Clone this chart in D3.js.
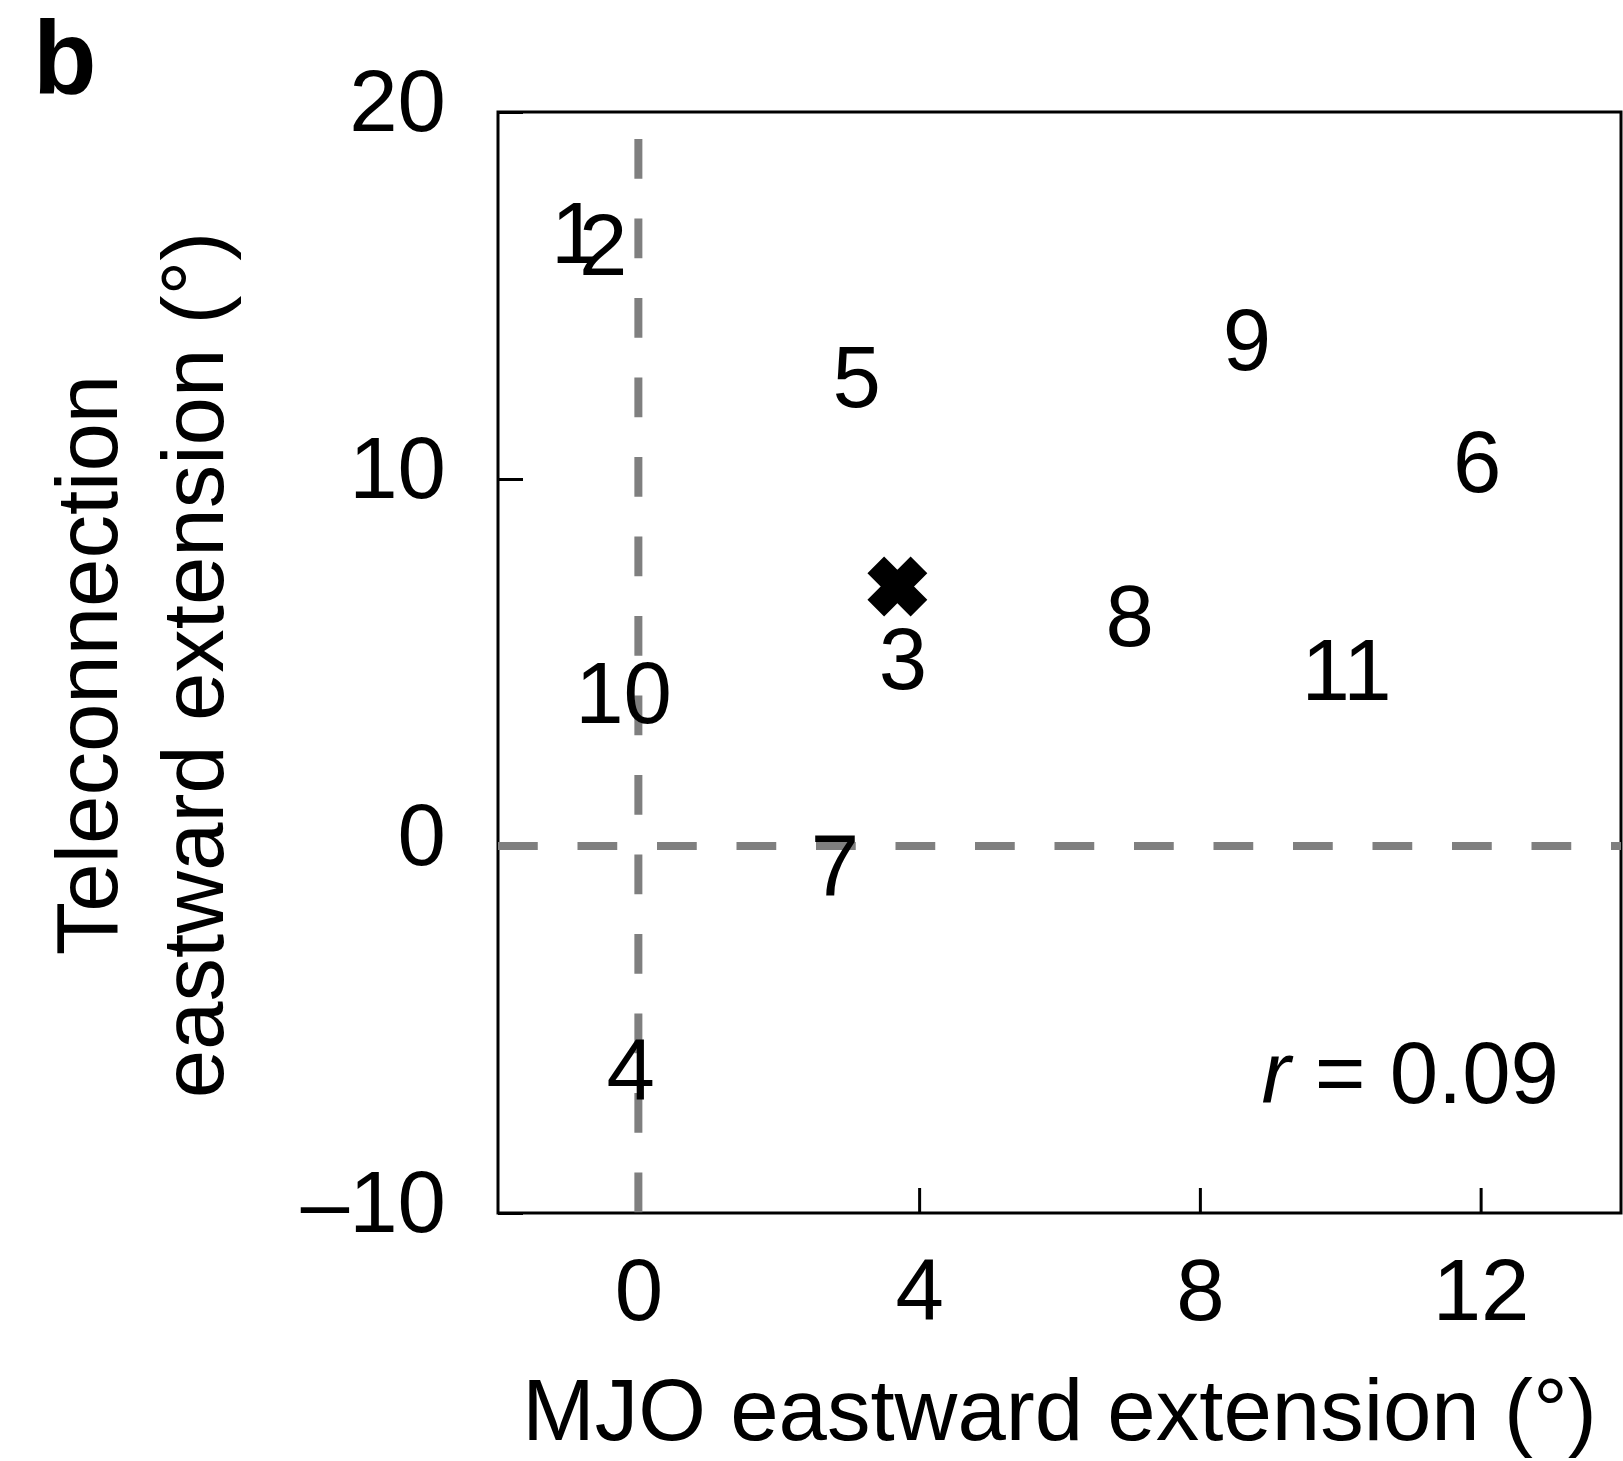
<!DOCTYPE html>
<html>
<head>
<meta charset="utf-8">
<script src="https://cdn.jsdelivr.net/npm/d3@7"></script>
<style>
  html, body { margin: 0; padding: 0; background: #fff; }
  text { font-family: "Liberation Sans", Arial, Helvetica, sans-serif; fill: #000; }
</style>
</head>
<body>
<script>
// model numbers and their eastward extensions (degrees)
var models = ["1", "2", "3", "4", "5", "6", "7", "8", "9", "10", "11"];
var mjoExt = [-0.90, -0.50, 3.77, -0.11, 3.11, 11.95, 2.80, 7.00, 8.67, -0.21, 10.09];
var teleExt = [16.74, 16.40, 5.14, -6.08, 12.82, 10.49, -0.52, 6.29, 13.81, 4.21, 4.82];

// observed value (cross)
var obsMjo = [3.69];
var obsTele = [7.07];

var xTicks = [0, 4, 8, 12];
var xTickLabels = ["0", "4", "8", "12"];
var yTicks = [-10, 0, 10, 20];
var yTickLabels = ["\u201310", "0", "10", "20"];
var corrText = "0.09";

var W = 1623, H = 1461;
var pLeft = 498, pRight = 1621, pTop = 112, pBottom = 1213;
var fs = 87;

var svg = d3.select("body").append("svg")
  .attr("width", W)
  .attr("height", H);

var x = d3.scaleLinear().domain([-2, 14]).range([pLeft, pRight]);
var y = d3.scaleLinear().domain([-10, 20]).range([pBottom, pTop]);

// axes with inward ticks
var xAxis = d3.axisBottom(x)
  .tickValues(xTicks)
  .tickFormat(function(d, i){ return xTickLabels[i]; })
  .tickSize(-25)
  .tickPadding(45);
var gx = svg.append("g")
  .attr("transform", "translate(0," + pBottom + ")")
  .call(xAxis);

var yAxis = d3.axisLeft(y)
  .tickValues(yTicks)
  .tickFormat(function(d, i){ return yTickLabels[i]; })
  .tickSize(-25)
  .tickPadding(52);
var gy = svg.append("g")
  .attr("transform", "translate(" + pLeft + ",0)")
  .call(yAxis);

[gx, gy].forEach(function(g){
  g.select(".domain").remove();
  g.selectAll(".tick line").attr("stroke", "#000").attr("stroke-width", 3);
  g.selectAll(".tick text")
    .attr("fill", "#000")
    .style("font-size", fs + "px")
    .style("font-family", '"Liberation Sans", Arial, Helvetica, sans-serif');
});
gy.selectAll(".tick text").attr("dy", "0.207em");

// plot frame
svg.append("rect")
  .attr("x", pLeft)
  .attr("y", pTop)
  .attr("width", pRight - pLeft)
  .attr("height", pBottom - pTop)
  .attr("fill", "none")
  .attr("stroke", "#000")
  .attr("stroke-width", 3);

// zero reference lines
svg.append("line")
  .attr("x1", x(0)).attr("x2", x(0))
  .attr("y1", pTop).attr("y2", pBottom)
  .attr("stroke", "#7f7f7f")
  .attr("stroke-width", 8)
  .attr("stroke-dasharray", "39.75,39.75")
  .attr("stroke-dashoffset", 52.5);

svg.append("line")
  .attr("x1", pLeft).attr("x2", pRight)
  .attr("y1", y(0)).attr("y2", y(0))
  .attr("stroke", "#7f7f7f")
  .attr("stroke-width", 8)
  .attr("stroke-dasharray", "39.75,39.75");

// model numbers
svg.selectAll("text.model")
  .data(models)
  .enter().append("text")
  .attr("class", "model")
  .attr("x", function(d, i){ return x(mjoExt[i]); })
  .attr("y", function(d, i){ return y(teleExt[i]); })
  .attr("dy", "0.358em")
  .attr("text-anchor", "middle")
  .style("font-size", fs + "px")
  .text(function(d){ return d; });

// observation cross
var crossType = {
  draw: function(ctx, size){
    var r = Math.sqrt(size) / 2;
    ctx.moveTo(-r, -r); ctx.lineTo(r, r);
    ctx.moveTo(-r, r); ctx.lineTo(r, -r);
  }
};
svg.selectAll("path.obs")
  .data(obsMjo)
  .enter().append("path")
  .attr("class", "obs")
  .attr("d", d3.symbol().type(crossType).size(43.2 * 43.2))
  .attr("transform", function(d, i){ return "translate(" + x(d) + "," + y(obsTele[i]) + ")"; })
  .attr("fill", "none")
  .attr("stroke", "#000")
  .attr("stroke-width", 23.6)
  .attr("stroke-linecap", "butt");

// correlation
var rt = svg.append("text")
  .attr("x", pRight - 62)
  .attr("y", 1103)
  .attr("text-anchor", "end")
  .style("font-size", fs + "px");
rt.append("tspan").style("font-style", "italic").text("r");
rt.append("tspan").text(" = " + corrText);

// axis titles
svg.append("text")
  .attr("x", (pLeft + pRight) / 2)
  .attr("y", 1440)
  .attr("text-anchor", "middle")
  .style("font-size", fs + "px")
  .text("MJO eastward extension (\u00b0)");

var yl = svg.append("text")
  .attr("transform", "translate(117," + 665 + ") rotate(-90)")
  .attr("text-anchor", "middle")
  .style("font-size", fs + "px");
yl.append("tspan").attr("x", 0).attr("y", 0).text("Teleconnection");
yl.append("tspan").attr("x", 0).attr("y", 106).text("eastward extension (\u00b0)");

// panel letter
svg.append("text")
  .attr("x", 33)
  .attr("y", 93)
  .style("font-size", "104px")
  .style("font-weight", "bold")
  .text("b");
</script>
</body>
</html>
